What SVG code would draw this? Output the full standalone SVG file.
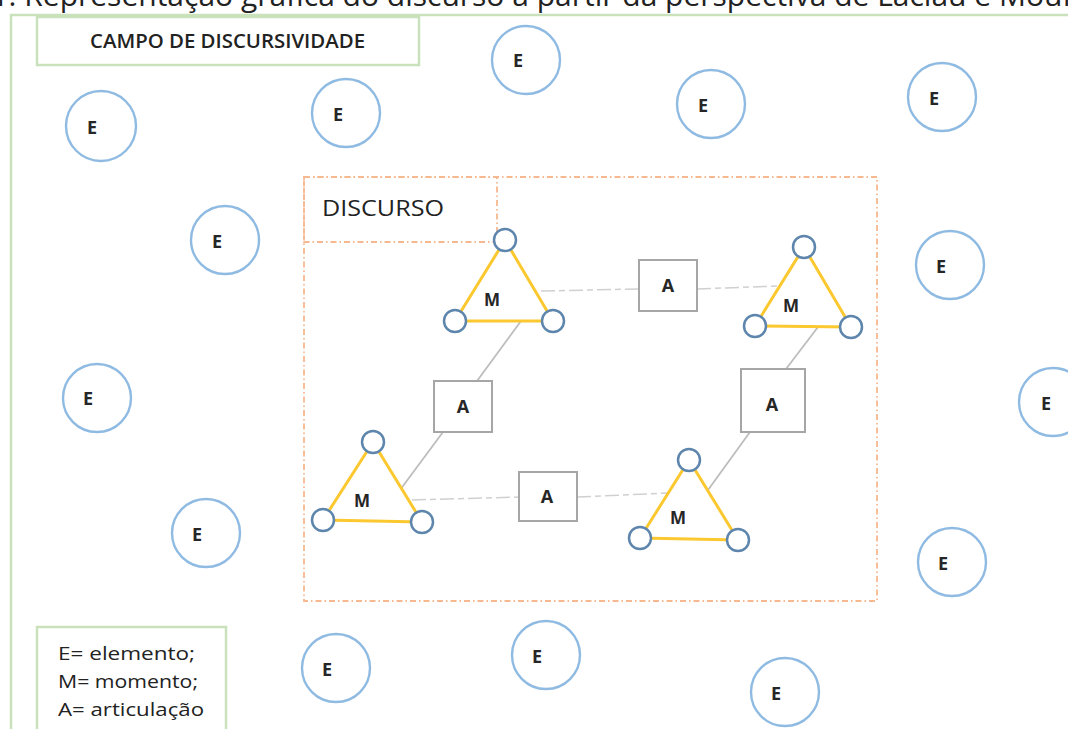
<svg xmlns="http://www.w3.org/2000/svg" width="1068" height="729" viewBox="0 0 1068 729">
<style>
.frame{fill:none;stroke:#c9e2bc;stroke-width:2.5}
.e{fill:#fff;stroke:#8fbbe3;stroke-width:2.4}
.et{font-family:"Open Sans","Liberation Sans",sans-serif;font-weight:bold;font-size:18px;fill:#262626;text-anchor:middle}
.tri{fill:#fff;stroke:#fcc830;stroke-width:3;stroke-linejoin:round}
.v{fill:#fff;stroke:#5e86ad;stroke-width:2.5}
.mt{font-family:"Open Sans","Liberation Sans",sans-serif;font-weight:bold;font-size:17px;fill:#262626;text-anchor:middle}
.a{fill:#fff;stroke:#a6a6a6;stroke-width:2}
.at{font-family:"Open Sans","Liberation Sans",sans-serif;font-weight:bold;font-size:18px;fill:#262626;text-anchor:middle}
.dash{fill:none;stroke:#f6b98f;stroke-width:1.8;stroke-dasharray:6 3 1.5 3}
.con{stroke:#bdbdbd;stroke-width:1.8;fill:none}
.conh{stroke:#d0d0d0;stroke-width:1.5;fill:none;stroke-dasharray:14 4 6 4}
.lbl{font-family:"Open Sans","Liberation Sans",sans-serif;fill:#222}
</style>
<rect width="1068" height="729" fill="#fff"/>
<text x="-103" y="6" class="lbl" font-size="30">Figura 1: Representação gráfica do discurso a partir da perspectiva de Laclau e Mouffe</text>
<rect class="frame" x="11" y="15" width="1100" height="800"/>
<g id="campo">
<rect class="frame" x="37" y="17" width="382" height="48"/>
<text x="90" y="48" class="lbl" font-size="19" font-weight="600" textLength="275" lengthAdjust="spacingAndGlyphs">CAMPO DE DISCURSIVIDADE</text>
</g>
<g id="discurso">
<rect class="dash" x="304" y="177" width="573" height="424"/>
<rect class="dash" x="304" y="177" width="193" height="65"/>
<text x="322" y="216" class="lbl" font-size="22" textLength="122" lengthAdjust="spacingAndGlyphs">DISCURSO</text>
</g>
<g id="connectors">
<line class="conh" x1="541" y1="291" x2="639" y2="289"/>
<line class="conh" x1="697" y1="289" x2="777" y2="286"/>
<line class="con" x1="521" y1="321" x2="477" y2="381"/>
<line class="con" x1="443" y1="432" x2="400" y2="490"/>
<line class="conh" x1="412" y1="500" x2="519" y2="497"/>
<line class="conh" x1="577" y1="497" x2="668" y2="493"/>
<line class="con" x1="818" y1="327" x2="786" y2="369"/>
<line class="con" x1="750" y1="432" x2="708" y2="490"/>
</g>
<g id="e1"><circle class="e" cx="101" cy="126" r="35"/><text class="et" x="92" y="134">E</text></g>
<g id="e2"><circle class="e" cx="526" cy="60" r="34"/><text class="et" x="518" y="67">E</text></g>
<g id="e3"><circle class="e" cx="346" cy="113" r="34"/><text class="et" x="338" y="121">E</text></g>
<g id="e4"><circle class="e" cx="711" cy="104" r="34"/><text class="et" x="703" y="112">E</text></g>
<g id="e5"><circle class="e" cx="942" cy="97" r="34"/><text class="et" x="934" y="105">E</text></g>
<g id="e6"><circle class="e" cx="225" cy="240" r="34"/><text class="et" x="217" y="248">E</text></g>
<g id="e7"><circle class="e" cx="950" cy="265" r="34"/><text class="et" x="941" y="273">E</text></g>
<g id="e8"><circle class="e" cx="97" cy="398" r="34"/><text class="et" x="88" y="405">E</text></g>
<g id="e9"><circle class="e" cx="1053" cy="402" r="34"/><text class="et" x="1046" y="410">E</text></g>
<g id="e10"><circle class="e" cx="206" cy="533" r="34"/><text class="et" x="197" y="541">E</text></g>
<g id="e11"><circle class="e" cx="952" cy="562" r="34"/><text class="et" x="943" y="570">E</text></g>
<g id="e12"><circle class="e" cx="336" cy="668" r="34"/><text class="et" x="327" y="676">E</text></g>
<g id="e13"><circle class="e" cx="546" cy="655" r="34"/><text class="et" x="537" y="663">E</text></g>
<g id="e14"><circle class="e" cx="785" cy="692" r="34"/><text class="et" x="776" y="700">E</text></g>
<g id="m1">
<polygon class="tri" points="505,240 455,321 553,321"/>
<circle class="v" cx="505" cy="240" r="11"/><circle class="v" cx="455" cy="321" r="11"/><circle class="v" cx="553" cy="321" r="11"/>
<text class="mt" x="492" y="306">M</text>
</g>
<g id="m2">
<polygon class="tri" points="804,247 755,326 851,327"/>
<circle class="v" cx="804" cy="247" r="11"/><circle class="v" cx="755" cy="326" r="11"/><circle class="v" cx="851" cy="327" r="11"/>
<text class="mt" x="791" y="312">M</text>
</g>
<g id="m3">
<polygon class="tri" points="373,442 323,520 422,522"/>
<circle class="v" cx="373" cy="442" r="11"/><circle class="v" cx="323" cy="520" r="11"/><circle class="v" cx="422" cy="522" r="11"/>
<text class="mt" x="362" y="507">M</text>
</g>
<g id="m4">
<polygon class="tri" points="689,460 640,538 738,540"/>
<circle class="v" cx="689" cy="460" r="11"/><circle class="v" cx="640" cy="538" r="11"/><circle class="v" cx="738" cy="540" r="11"/>
<text class="mt" x="678" y="524">M</text>
</g>
<g id="a1"><rect class="a" x="639" y="260" width="58" height="51"/><text class="at" x="668" y="292">A</text></g>
<g id="a2"><rect class="a" x="434" y="381" width="58" height="51"/><text class="at" x="463" y="413">A</text></g>
<g id="a3"><rect class="a" x="741" y="369" width="64" height="63"/><text class="at" x="772" y="411">A</text></g>
<g id="a4"><rect class="a" x="519" y="472" width="58" height="49"/><text class="at" x="547" y="503">A</text></g>
<g id="legenda">
<rect class="frame" x="37" y="627" width="189" height="120"/>
<text class="lbl" font-size="18" font-weight="500" x="58" y="660" textLength="137" lengthAdjust="spacingAndGlyphs">E= elemento;</text>
<text class="lbl" font-size="18" font-weight="500" x="58" y="688" textLength="140" lengthAdjust="spacingAndGlyphs">M= momento;</text>
<text class="lbl" font-size="18" font-weight="500" x="58" y="716" textLength="146" lengthAdjust="spacingAndGlyphs">A= articulação</text>
</g>
</svg>
